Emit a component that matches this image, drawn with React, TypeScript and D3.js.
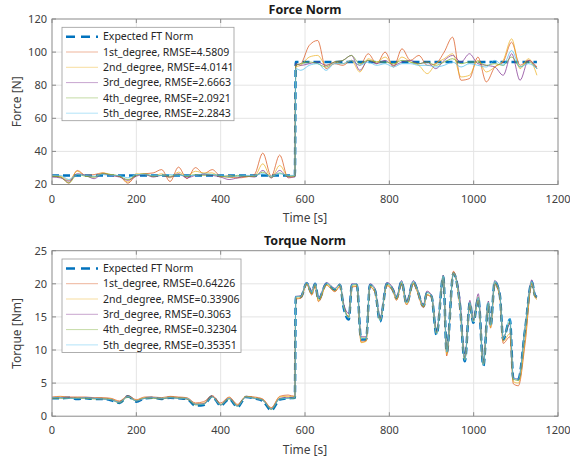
import React from 'react';
import * as d3 from 'd3';

// ---- shared ----
const xTicks = [0, 200, 400, 600, 800, 1000, 1200];
const colors = ['#0072BD', '#D95319', '#EDB120', '#7E2F8E', '#77AC30', '#4DBEEE'];

// ---- force panel ----
const forceTimes = [
  0, 20, 40, 60, 80, 100, 120, 140, 160, 180, 200, 220, 240, 260, 280, 300, 320, 340, 360, 380,
  400, 420, 440, 460, 480, 500, 520, 540, 560, 576,
  578, 590, 610, 630, 650, 670, 690, 710, 730, 750, 770, 790, 810, 830, 850, 870, 890, 910, 930, 950,
  970, 990, 1010, 1030, 1050, 1070, 1090, 1110, 1130, 1150,
];
const forceExpected = [
  25.5, 25.5, 25.5, 25.5, 25.5, 25.5, 25.5, 25.5, 25.5, 25.5, 25.5, 25.5, 25.5, 25.5, 25.5, 25.5, 25.5, 25.5, 25.5, 25.5,
  25.5, 25.5, 25.5, 25.5, 25.5, 25.5, 25.5, 25.5, 25.5, 25.5,
  94.0, 94.0, 94.0, 94.0, 94.0, 94.0, 94.0, 94.0, 94.0, 94.0, 94.0, 94.0, 94.0, 94.0, 94.0, 94.0, 94.0, 94.0, 94.0, 94.0,
  94.0, 94.0, 94.0, 94.0, 94.0, 94.0, 94.0, 94.0, 94.0, 94.0,
];
const force1st = [
  25.0, 24.5, 20.8, 28.5, 25.5, 26.0, 27.0, 25.5, 25.0, 20.8, 25.5, 26.5, 27.0, 29.0, 21.8, 30.5, 23.5, 30.2, 26.5, 29.0,
  25.0, 24.5, 24.0, 24.5, 26.0, 39.0, 25.0, 37.8, 24.0, 25.0,
  92, 93, 104, 107, 90, 93, 92, 95, 92, 99, 93, 100, 91, 102, 95, 98, 92, 93, 100, 109,
  83, 84, 97, 82, 91, 94, 106, 92, 95, 91,
];
const force2nd = [
  25.5, 25.0, 22.5, 28.0, 25.0, 24.5, 27.0, 26.0, 25.0, 21.5, 26.5, 26.0, 25.0, 26.5, 24.0, 27.5, 25.0, 28.0, 27.0, 27.0,
  24.5, 25.5, 24.5, 25.0, 25.0, 32.5, 24.0, 31.5, 25.0, 25.5,
  91, 92, 97, 98, 92, 94, 93, 95, 88, 96, 94, 97, 92, 97, 94, 92, 87, 93, 96, 99,
  85, 86, 95, 88, 91, 95, 108, 90, 96, 86,
];
const force3rd = [
  24.5, 24.0, 22.0, 26.5, 25.5, 23.5, 26.5, 25.5, 24.5, 22.5, 25.0, 26.0, 24.5, 25.5, 24.5, 26.5, 24.0, 25.5, 26.0, 25.5,
  24.5, 23.0, 24.0, 25.0, 24.5, 28.5, 24.0, 28.5, 24.5, 24.5,
  93, 92, 93, 94, 92, 94, 95, 98, 89, 95, 93, 95, 92, 94, 95, 93, 94, 90, 95, 98,
  94, 99, 93, 92, 91, 86, 99, 83, 95, 90,
];
const force4th = [
  25.0, 24.5, 21.0, 26.0, 25.0, 24.5, 26.5, 26.0, 25.0, 23.0, 25.5, 26.5, 25.0, 25.5, 25.0, 26.0, 25.0, 26.0, 25.5, 26.0,
  25.0, 24.5, 25.5, 25.0, 25.0, 27.5, 24.5, 27.0, 25.0, 25.0,
  92, 93, 94, 93, 91, 94, 95, 98, 93, 95, 94, 94, 93, 95, 94, 93, 94, 92, 94, 96,
  93, 94, 94, 92, 93, 92, 97, 91, 94, 90,
];
const force5th = [
  25.5, 25.5, 23.0, 26.0, 25.5, 25.0, 26.0, 25.5, 25.5, 24.0, 26.0, 26.0, 25.5, 25.5, 26.0, 25.5, 25.5, 25.5, 26.5, 26.0,
  25.5, 25.0, 25.0, 25.5, 25.5, 26.5, 25.0, 26.5, 25.5, 25.5,
  90, 89, 92, 93, 89, 93, 93, 95, 92, 94, 92, 93, 91, 93, 93, 92, 92, 91, 92, 94,
  91, 93, 92, 91, 95, 92, 101, 91, 93, 90,
];
const forceYTicks = [20, 40, 60, 80, 100, 120];
const forceLabels = [
  'Expected FT Norm',
  '1st_degree, RMSE=4.5809',
  '2nd_degree, RMSE=4.0141',
  '3rd_degree, RMSE=2.6663',
  '4th_degree, RMSE=2.0921',
  '5th_degree, RMSE=2.2843',
];

// ---- torque panel ----
const torqueTimes = [
  0, 20, 40, 60, 80, 100, 120, 140, 160, 180, 200, 220, 240, 260, 280, 300, 320, 340, 360, 380,
  400, 420, 440, 460, 480, 500, 520, 540, 560, 576,
  578, 590, 604, 616, 624, 632, 651, 671, 683, 691, 704, 711, 723, 733, 745, 754, 766, 778, 794, 809,
  817, 829, 841, 857, 865, 881, 889, 900, 912, 928, 936, 952, 967, 979, 991, 999, 1011, 1023, 1035, 1040,
  1050, 1062, 1070, 1086, 1094, 1106, 1122, 1138, 1145, 1150,
];
const torqueExpected = [
  2.7, 2.7, 2.8, 2.6, 2.7, 2.6, 2.6, 2.4, 2.0, 3.0, 2.2, 2.7, 2.8, 2.6, 2.8, 2.7, 2.6, 1.6, 1.7, 3.0,
  1.6, 2.6, 1.4, 2.9, 2.7, 2.3, 0.9, 2.5, 2.7, 2.8,
  18.0, 18.0, 20.1, 18.6, 20.0, 17.6, 20.0, 19.1, 19.8, 16.6, 14.6, 19.8, 19.8, 11.6, 11.6, 19.8, 19.0, 14.3, 20.0, 19.0,
  17.8, 20.3, 17.0, 20.3, 19.3, 16.6, 18.6, 18.1, 12.3, 21.1, 9.6, 21.6, 17.1, 8.3, 17.1, 14.1, 17.8, 7.6, 17.1, 13.6,
  20.3, 18.3, 11.6, 14.6, 5.6, 5.6, 13.1, 20.3, 18.3, 18.0,
];
const torque1st = [
  2.9, 3.0, 2.9, 2.9, 2.9, 2.8, 2.8, 2.7, 2.3, 3.1, 2.5, 2.9, 2.9, 2.8, 3.0, 2.9, 2.8, 2.0, 2.2, 3.1,
  2.0, 2.9, 1.8, 3.0, 2.9, 2.6, 1.3, 3.0, 3.2, 3.0,
  17.7, 17.8, 19.9, 18.3, 19.6, 17.3, 19.8, 18.8, 19.6, 16.9, 15.0, 19.5, 19.6, 11.2, 11.4, 19.5, 18.7, 14.6, 19.7, 18.8,
  17.5, 20.0, 16.8, 20.0, 19.0, 16.4, 18.3, 17.9, 12.6, 21.0, 9.1, 21.9, 16.8, 8.6, 16.8, 14.4, 17.5, 7.9, 16.8, 13.3,
  19.9, 18.0, 11.0, 12.0, 4.9, 4.6, 11.0, 20.0, 18.2, 17.8,
];
const torque2nd = [
  2.8, 2.9, 2.8, 2.8, 2.8, 2.7, 2.7, 2.6, 2.2, 3.0, 2.4, 2.8, 2.8, 2.7, 2.9, 2.8, 2.7, 1.9, 2.0, 3.0,
  1.8, 2.8, 1.7, 3.0, 2.8, 2.5, 1.2, 2.9, 3.0, 2.9,
  17.8, 17.9, 20.0, 18.4, 19.8, 17.4, 19.8, 18.9, 19.7, 16.8, 14.9, 19.6, 19.7, 11.1, 11.3, 19.6, 18.8, 14.5, 19.8, 18.9,
  17.6, 20.1, 16.9, 20.1, 19.1, 16.5, 18.4, 18.0, 12.5, 21.0, 9.4, 21.7, 16.9, 8.5, 16.9, 14.3, 17.6, 7.8, 16.9, 13.4,
  20.0, 18.1, 11.3, 12.5, 5.2, 5.0, 11.5, 20.1, 18.0, 17.6,
];
const torque3rd = [
  2.7, 2.8, 2.8, 2.7, 2.8, 2.7, 2.6, 2.5, 2.1, 3.0, 2.3, 2.7, 2.8, 2.6, 2.8, 2.7, 2.6, 1.8, 1.9, 3.0,
  1.7, 2.7, 1.6, 2.9, 2.7, 2.4, 1.1, 2.7, 2.8, 2.8,
  18.1, 18.2, 20.2, 19.0, 20.1, 17.9, 20.2, 19.3, 20.0, 17.2, 15.5, 20.0, 20.0, 12.0, 12.0, 20.0, 19.3, 14.8, 20.2, 19.3,
  18.1, 20.5, 17.4, 20.5, 19.5, 16.9, 18.9, 18.3, 12.8, 21.3, 10.0, 21.5, 18.0, 8.8, 17.5, 14.5, 18.5, 8.0, 17.4, 14.0,
  20.5, 18.5, 11.9, 14.0, 5.8, 5.6, 13.4, 20.6, 18.5, 18.1,
];
const torque4th = [
  2.7, 2.7, 2.7, 2.7, 2.7, 2.6, 2.6, 2.5, 2.0, 2.9, 2.3, 2.7, 2.7, 2.6, 2.8, 2.7, 2.6, 1.7, 1.8, 2.9,
  1.7, 2.6, 1.5, 2.9, 2.7, 2.4, 1.0, 2.6, 2.7, 2.7,
  18.0, 18.1, 20.1, 18.7, 20.0, 17.7, 20.0, 19.2, 19.9, 16.9, 15.0, 19.8, 19.9, 11.8, 11.8, 19.8, 19.1, 14.5, 20.0, 19.1,
  17.9, 20.3, 17.2, 20.3, 19.4, 16.7, 18.7, 18.2, 12.5, 21.2, 9.8, 21.5, 17.4, 8.5, 17.2, 14.3, 18.0, 7.8, 17.2, 13.8,
  20.3, 18.4, 11.8, 14.3, 5.6, 5.4, 13.4, 20.3, 18.4, 18.0,
];
const torque5th = [
  2.8, 2.8, 2.7, 2.7, 2.8, 2.7, 2.6, 2.5, 2.1, 3.0, 2.3, 2.7, 2.8, 2.7, 2.8, 2.7, 2.7, 1.8, 1.8, 2.9,
  1.7, 2.7, 1.5, 2.9, 2.7, 2.4, 1.1, 2.6, 2.7, 2.8,
  18.1, 18.1, 20.2, 18.7, 20.1, 17.8, 20.1, 19.2, 20.0, 16.8, 14.8, 19.9, 20.0, 11.7, 11.7, 19.9, 19.1, 14.4, 20.1, 19.1,
  17.9, 20.4, 17.1, 20.4, 19.4, 16.7, 18.7, 18.2, 12.4, 21.2, 9.7, 21.6, 17.2, 8.4, 17.2, 14.2, 17.9, 7.7, 17.2, 13.7,
  20.4, 18.4, 11.7, 14.8, 5.7, 5.6, 13.3, 20.4, 18.4, 18.1,
];
const torqueYTicks = [0, 5, 10, 15, 20, 25];
const torqueLabels = [
  'Expected FT Norm',
  '1st_degree, RMSE=0.64226',
  '2nd_degree, RMSE=0.33906',
  '3rd_degree, RMSE=0.3063',
  '4th_degree, RMSE=0.32304',
  '5th_degree, RMSE=0.35351',
];

const FONT = '"Noto Sans", "Open Sans", sans-serif';

type PanelProps = {
  id: string;
  top: number;
  title: string;
  ylabel: string;
  yTicks: number[];
  times: number[];
  series: number[][];
  labels: string[];
  legendWidth: number;
};

const Panel = ({ id, top, title, ylabel, yTicks, times, series, labels, legendWidth }: PanelProps) => {
  const left = 52;
  const right = 558;
  const bottom = top + 165.5;

  const x = d3.scaleLinear().domain([0, 1200]).range([left, right]);
  const y = d3.scaleLinear().domain([yTicks[0], yTicks[yTicks.length - 1]]).range([bottom, top]);

  const line = (vals: number[]) =>
    d3.line<number>()
      .x((_, i) => x(times[i]))
      .y(d => y(d))
      .curve(d3.curveMonotoneX)(vals) || '';

  const lgX = left + 10;
  const lgY = top + 8.3;
  const rowH = 15.3;

  return (
    <g>
      <defs>
        <clipPath id={`clip-${id}`}>
          <rect x={left} y={top} width={right - left} height={bottom - top} />
        </clipPath>
      </defs>
      <rect x={left} y={top} width={right - left} height={bottom - top} fill="#fff" />
      {/* grid */}
      {xTicks.slice(1, -1).map(t => (
        <line key={`gx${t}`} x1={x(t)} x2={x(t)} y1={top} y2={bottom} stroke="#e4e4e4" strokeWidth={1} />
      ))}
      {yTicks.slice(1, -1).map(t => (
        <line key={`gy${t}`} x1={left} x2={right} y1={y(t)} y2={y(t)} stroke="#e4e4e4" strokeWidth={1} />
      ))}

      <g clipPath={`url(#clip-${id})`}>
        <path d={line(series[0])} fill="none" stroke={colors[0]} strokeWidth={2.5} strokeDasharray="7,4" />
        {series.slice(1).map((s, i) => (
          <path key={i} d={line(s)} fill="none" stroke={colors[i + 1]} strokeWidth={0.8} strokeOpacity={0.9} />
        ))}
      </g>

      {/* box */}
      <rect x={left} y={top} width={right - left} height={bottom - top} fill="none" stroke="#8a8a8a" strokeWidth={1} />
      {/* ticks */}
      {xTicks.map(t => (
        <g key={`tx${t}`}>
          <line x1={x(t)} x2={x(t)} y1={bottom} y2={bottom - 4} stroke="#8a8a8a" />
          <line x1={x(t)} x2={x(t)} y1={top} y2={top + 4} stroke="#8a8a8a" />
          <text x={x(t)} y={bottom + 18} textAnchor="middle" fontSize={11} fill="#404040" fontFamily={FONT}>{t}</text>
        </g>
      ))}
      {yTicks.map(t => (
        <g key={`ty${t}`}>
          <line x1={left} x2={left + 4} y1={y(t)} y2={y(t)} stroke="#8a8a8a" />
          <line x1={right} x2={right - 4} y1={y(t)} y2={y(t)} stroke="#8a8a8a" />
          <text x={left - 5} y={y(t)} dy="0.36em" textAnchor="end" fontSize={11} fill="#404040" fontFamily={FONT}>{t}</text>
        </g>
      ))}

      <text x={(left + right) / 2} y={top - 5.5} textAnchor="middle" fontSize={12.5} fontWeight="bold" fill="#1a1a1a" fontFamily={FONT}>{title}</text>
      <text x={(left + right) / 2} y={bottom + 37.5} textAnchor="middle" fontSize={12} fill="#404040" fontFamily={FONT}>Time [s]</text>
      <text transform={`translate(21,${(top + bottom) / 2}) rotate(-90)`} textAnchor="middle" fontSize={12} fill="#404040" fontFamily={FONT}>{ylabel}</text>

      {/* legend */}
      <rect x={lgX} y={lgY} width={legendWidth} height={93.4} fill="#fff" stroke="#9a9a9a" strokeWidth={0.8} />
      {labels.map((lab, i) => {
        const ry = lgY + 9.4 + i * rowH;
        return (
          <g key={lab}>
            {i === 0 ? (
              <line x1={lgX + 4} x2={lgX + 36} y1={ry} y2={ry} stroke={colors[0]} strokeWidth={2.5} strokeDasharray="9,6" />
            ) : (
              <line x1={lgX + 4} x2={lgX + 36} y1={ry} y2={ry} stroke={colors[i]} strokeWidth={0.8} strokeOpacity={0.55} />
            )}
            <text x={lgX + 41} y={ry} dy="0.36em" fontSize={10.5} fill="#262626" fontFamily={FONT}>{lab}</text>
          </g>
        );
      })}
    </g>
  );
};

const App = () => (
  <svg width={570} height={462} style={{ position: 'absolute', left: 0, top: 0, background: '#fff' }}>
    <rect width={570} height={462} fill="#fff" />
    <Panel id="f" top={19} title="Force Norm" ylabel="Force [N]" yTicks={forceYTicks} times={forceTimes}
      series={[forceExpected, force1st, force2nd, force3rd, force4th, force5th]} labels={forceLabels} legendWidth={172} />
    <Panel id="t" top={250.7} title="Torque Norm" ylabel="Torque [Nm]" yTicks={torqueYTicks} times={torqueTimes}
      series={[torqueExpected, torque1st, torque2nd, torque3rd, torque4th, torque5th]} labels={torqueLabels} legendWidth={179} />
  </svg>
);

export default App;
